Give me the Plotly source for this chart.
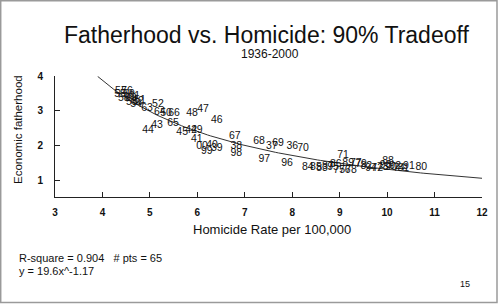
import numpy as np
import plotly.graph_objects as go

# ---- data ----
years = ["36", "37", "38", "39", "40", "41", "42", "43", "44", "45", "46", "47", "48", "49",
         "50", "51", "52", "53", "54", "55", "56", "57", "58", "59", "60", "61", "62", "63",
         "64", "65", "66", "67", "68", "69", "70", "71",
         "84", "85", "83", "87", "95", "86", "75", "76", "78", "77", "79", "82", "94", "72",
         "73", "88", "90", "92", "74", "81", "93", "89", "91", "80",
         "96", "97", "98", "99", "00"]
homicide = [8.00, 7.57, 6.82, 6.41, 6.31, 5.99, 5.87, 5.15, 4.96, 5.68, 6.41, 6.12, 5.89, 5.99,
            5.34, 4.79, 5.17, 4.62, 4.71, 4.37, 4.52, 4.39, 4.45, 4.56, 4.60, 4.67, 4.75, 4.94,
            5.21, 5.49, 5.51, 6.79, 7.30, 7.70, 8.23, 9.07,
            8.33, 8.50, 8.63, 8.75, 8.86, 8.92, 8.99, 9.11, 9.24, 9.34, 9.45, 9.56, 9.66, 9.79,
            9.91, 10.02, 10.08, 10.17, 10.25, 10.34, 9.97, 9.18, 10.46, 10.72,
            7.89, 7.41, 6.82, 6.20, 6.10]
fatherhood = [1.97, 1.97, 1.97, 1.94, 2.02, 2.19, 2.45, 2.59, 2.45, 2.39, 2.74, 3.03, 2.94, 2.45,
              2.94, 3.31, 3.20, 3.25, 3.20, 3.46, 3.57, 3.57, 3.37, 3.46, 3.37, 3.43, 3.28, 3.08,
              2.97, 2.65, 2.94, 2.28, 2.14, 2.08, 1.94, 1.74,
              1.39, 1.39, 1.36, 1.42, 1.39, 1.48, 1.31, 1.31, 1.31, 1.51, 1.48, 1.42, 1.36, 1.36,
              1.39, 1.56, 1.39, 1.42, 1.36, 1.36, 1.45, 1.51, 1.42, 1.39,
              1.51, 1.62, 1.77, 1.85, 1.97]

# fitted power curve y = a * x^b (as printed on the chart)
fit_a, fit_b = 19.6, -1.17
fit_x = np.linspace(3.9, 12, 120)
fit_y = fit_a * fit_x ** fit_b

x_ticks = [3, 4, 5, 6, 7, 8, 9, 10, 11, 12]
y_ticks = [1, 2, 3, 4]

FONT = "Liberation Sans, Arial, sans-serif"

fig = go.Figure()
fig.add_trace(go.Scatter(x=fit_x, y=fit_y, mode="lines",
                         line=dict(color="#333333", width=1), hoverinfo="skip"))
fig.add_trace(go.Scatter(x=homicide, y=fatherhood, mode="text", text=years,
                         textposition="middle center",
                         textfont=dict(family=FONT, size=10.5, color="#111111")))

W, H = 500, 304
L, R, T, B = 55, 18, 76, 107
pw, ph = W - L - R, H - T - B

def px(xp):
    return (xp - L) / pw

def py(yp):
    return (H - B - yp) / ph

fig.update_layout(
    width=W, height=H,
    margin=dict(l=L, r=R, t=T, b=B),
    paper_bgcolor="white", plot_bgcolor="white",
    showlegend=False,
    font=dict(family=FONT, color="#111111"),
    xaxis=dict(range=[3, 12], tickvals=x_ticks, ticks="inside", ticklen=5,
               tickcolor="#222222", showline=True, linecolor="#222222", linewidth=1,
               showgrid=False, zeroline=False, ticklabelstandoff=6,
               tickfont=dict(family=FONT, size=10, color="#111111", weight="bold")),
    yaxis=dict(range=[0.534, 4], tickvals=y_ticks, ticks="inside", ticklen=5,
               tickcolor="#222222", showline=True, linecolor="#222222", linewidth=1,
               showgrid=False, zeroline=False, ticklabelstandoff=9,
               tickfont=dict(family=FONT, size=10, color="#111111", weight="bold")),
)

ann = [
    dict(text="Fatherhood vs. Homicide: 90% Tradeoff", x=px(266), y=py(35), size=23),
    dict(text="1936-2000", x=px(270), y=py(54), size=12),
    dict(text="Homicide Rate per 100,000", x=px(272), y=py(229), size=13),
    dict(text="15", x=px(465), y=py(284), size=9),
]
for a in ann:
    fig.add_annotation(text=a["text"], x=a["x"], y=a["y"], xref="paper", yref="paper",
                       xanchor="center", yanchor="middle", showarrow=False,
                       font=dict(family=FONT, size=a["size"], color="#111111"))

fig.add_annotation(text="Economic fatherhood", x=px(18), y=py(130), xref="paper", yref="paper",
                   xanchor="center", yanchor="middle", showarrow=False, textangle=-90,
                   font=dict(family=FONT, size=11.5, color="#111111"))
fig.add_annotation(text="R-square = 0.904&nbsp;&nbsp;&nbsp;# pts = 65", x=px(17), y=py(258),
                   xref="paper", yref="paper", xanchor="left", yanchor="middle",
                   showarrow=False, font=dict(family=FONT, size=11, color="#111111"))
fig.add_annotation(text="y = 19.6x^-1.17", x=px(17), y=py(271),
                   xref="paper", yref="paper", xanchor="left", yanchor="middle",
                   showarrow=False, font=dict(family=FONT, size=11, color="#111111"))

# slide frame
fig.add_shape(type="rect", xref="paper", yref="paper",
              x0=px(0.7), x1=px(497), y0=py(302.5), y1=py(0.7),
              line=dict(color="#9a9a9a", width=1.5), fillcolor="rgba(0,0,0,0)")

fig.write_html("out.html")
